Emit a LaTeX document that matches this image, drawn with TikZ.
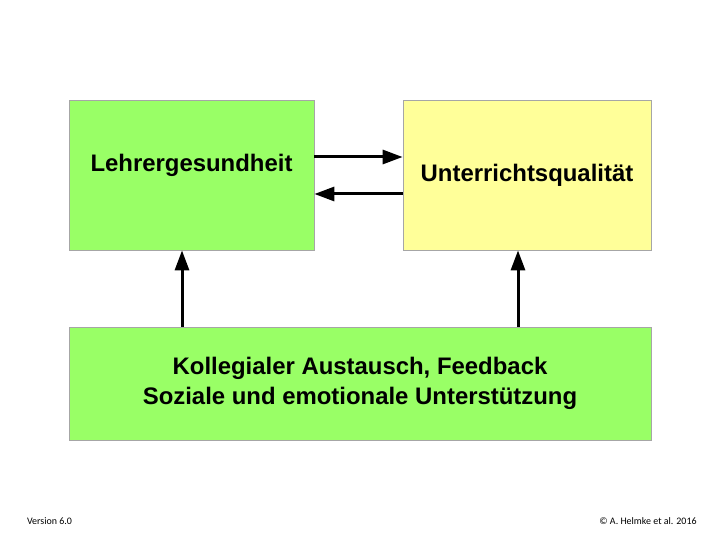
\documentclass[tikz,border=0pt]{standalone}
\usepackage{fontspec}
\setmainfont{Liberation Sans}
\newfontfamily\footfont{Carlito}
\usetikzlibrary{arrows.meta,positioning}
\definecolor{boxgreen}{HTML}{99FF66}
\definecolor{boxyellow}{HTML}{FFFF99}
\definecolor{boxline}{HTML}{A6A6A6}
\begin{document}
\begin{tikzpicture}[x=1bp, y=-1bp,
    box/.style={draw=boxline, line width=0.75bp, inner sep=0pt, align=center,
      font=\fontsize{24}{30}\selectfont\bfseries},
    arr/.style={line width=3bp, -{Triangle[length=20bp,width=14bp]}},
    foot/.style={font=\footfont\fontsize{10}{12}\selectfont}]
        \useasboundingbox[fill=white] (0,0) rectangle (720,540);

        % Boxes
        \node[box, fill=boxgreen, minimum width=245bp, minimum height=150bp,
          label={[font=\fontsize{24}{30}\selectfont\bfseries, yshift=10bp]center:Lehrergesundheit}]
          (lg) at (191.5,175) {};
        \node[box, fill=boxyellow, minimum width=248bp, minimum height=150bp]
          (uq) at (527,175) {Unterrichtsqualität};
        \node[box, fill=boxgreen, minimum width=582bp, minimum height=113bp]
          (ka) at (360,383.5) {Kollegialer Austausch, Feedback\\Soziale und emotionale Unterstützung};

        % Arrows between the boxes
        \draw[arr] ([yshift=18bp]lg.east) -- ([yshift=18bp]lg.east -| uq.west);
        \draw[arr] ([yshift=-19bp]uq.west) -- ([yshift=-19bp]uq.west -| lg.east);
        \draw[arr] ([xshift=-9.5bp]lg.south |- ka.north) -- ([xshift=-9.5bp]lg.south);
        \draw[arr] ([xshift=-9bp]uq.south |- ka.north) -- ([xshift=-9bp]uq.south);

        % Footer
        \node[foot] (ver) at (49.5,521) {Version 6.0};
        \node[foot] (copy) at (648,521) {© A. Helmke et al. 2016};
    \end{tikzpicture}
\end{document}
